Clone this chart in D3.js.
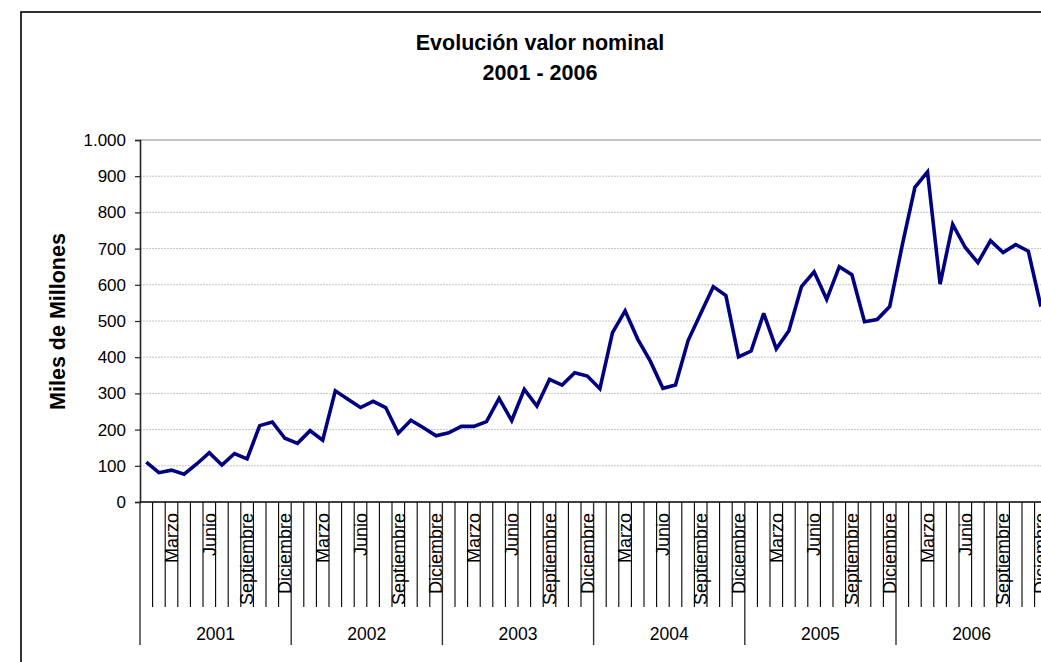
<!DOCTYPE html>
<html>
<head>
<meta charset="utf-8">
<script src="https://cdn.jsdelivr.net/npm/d3@7"></script>
<style>
  html, body { margin: 0; padding: 0; background: #fff; overflow: hidden; }
  text { font-family: "Liberation Sans", Arial, sans-serif; fill: #000; }
</style>
</head>
<body>
<svg id="chart" width="1041" height="662"></svg>
<script>
// ---- data ----
const years = ["2001", "2002", "2003", "2004", "2005", "2006"];
const months = ["Enero", "Febrero", "Marzo", "Abril", "Mayo", "Junio", "Julio", "Agosto", "Septiembre", "Octubre", "Noviembre", "Diciembre"];
const shownMonths = ["Marzo", "Junio", "Septiembre", "Diciembre"];
const values2001 = [110, 81, 88, 77, 105, 136, 102, 134, 119, 211, 221, 176];
const values2002 = [162, 197, 171, 307, 284, 261, 278, 261, 190, 226, 205, 183];
const values2003 = [191, 209, 209, 222, 286, 225, 311, 265, 339, 323, 357, 348];
const values2004 = [313, 468, 528, 450, 389, 314, 323, 446, 521, 595, 570, 401];
const values2005 = [417, 521, 423, 473, 595, 636, 560, 650, 628, 498, 504, 540];
const values2006 = [710, 869, 912, 602, 767, 703, 661, 722, 689, 711, 693, 540];
const yTicks = [0, 100, 200, 300, 400, 500, 600, 700, 800, 900, 1000];
const title1 = "Evolución valor nominal";
const title2 = "2001 - 2006";
const yTitle = "Miles de Millones";

const allValues = [values2001, values2002, values2003, values2004, values2005, values2006];
const data = [];
years.forEach((yr, yi) => months.forEach((m, mi) => data.push({ key: yr + "-" + mi, year: yr, month: m, value: allValues[yi][mi] })));

// ---- layout ----
const svg = d3.select("#chart");
const plotL = 140, plotR = 140 + 12.6 * 72, plotT = 140, plotB = 502;

svg.append("rect").attr("x", 0).attr("y", 0).attr("width", 1041).attr("height", 662).attr("fill", "#fff");
// outer chart border (extends beyond the window)
svg.append("rect").attr("x", 21).attr("y", 12).attr("width", 1200).attr("height", 800)
  .attr("fill", "none").attr("stroke", "#000").attr("stroke-width", 1.6);

const x = d3.scaleBand().domain(data.map(d => d.key)).range([plotL, plotR]).paddingInner(0).paddingOuter(0);
const y = d3.scaleLinear().domain([0, 1000]).range([plotB, plotT]);

// gridlines
svg.append("g").selectAll("line").data(yTicks.filter(t => t > 0 && t < 1000)).join("line")
  .attr("x1", plotL).attr("x2", plotR).attr("y1", d => y(d)).attr("y2", d => y(d))
  .attr("stroke", "#c4c4c4").attr("stroke-width", 1).attr("stroke-dasharray", "2,1");
// plot area top border
svg.append("line").attr("x1", plotL).attr("x2", plotR).attr("y1", y(1000)).attr("y2", y(1000))
  .attr("stroke", "#888").attr("stroke-width", 1.2);

// y axis
const loc = d3.formatLocale({ decimal: ",", thousands: ".", grouping: [3], currency: ["", ""] });
const fmt = loc.format(",d");
const yAxis = svg.append("g").attr("transform", `translate(${plotL},0)`)
  .call(d3.axisLeft(y).tickValues(yTicks).tickFormat(fmt).tickSize(5).tickPadding(9));
yAxis.select(".domain").attr("stroke", "#222").attr("stroke-width", 1.6);
yAxis.selectAll(".tick line").attr("stroke", "#222").attr("stroke-width", 1.2);
yAxis.selectAll(".tick text").attr("font-size", 17).attr("font-family", "Liberation Sans, Arial, sans-serif").attr("fill", "#000");

// x axis line
svg.append("line").attr("x1", plotL).attr("x2", plotR).attr("y1", plotB).attr("y2", plotB)
  .attr("stroke", "#000").attr("stroke-width", 1.6);

// month tick lines (between categories)
const bw = x.bandwidth();
const boundaries = d3.range(0, 73);
svg.append("g").selectAll("line").data(boundaries).join("line")
  .attr("x1", i => plotL + i * bw).attr("x2", i => plotL + i * bw)
  .attr("y1", plotB)
  .attr("y2", i => (i % 12 === 0) ? 645 : 607)
  .attr("stroke", i => (i % 12 === 0) ? "#333" : "#000")
  .attr("stroke-width", i => (i % 12 === 0) ? 1.4 : 1.1);

// month labels
svg.append("g").selectAll("text").data(data.filter(d => shownMonths.includes(d.month))).join("text")
  .attr("transform", d => `translate(${x(d.key) + bw / 2},513) rotate(-90)`)
  .attr("text-anchor", "end").attr("dy", "0.35em")
  .attr("font-size", 18).text(d => d.month);

// year labels
const yearScale = d3.scaleBand().domain(years).range([plotL, plotR]);
svg.append("g").selectAll("text").data(years).join("text")
  .attr("x", d => yearScale(d) + yearScale.bandwidth() / 2).attr("y", 640)
  .attr("text-anchor", "middle").attr("font-size", 17.5).text(d => d);

// line
const line = d3.line().x(d => x(d.key) + bw / 2).y(d => y(d.value));
svg.append("path").datum(data).attr("d", line)
  .attr("fill", "none").attr("stroke", "#000080").attr("stroke-width", 3.6)
  .attr("stroke-linejoin", "miter").attr("stroke-miterlimit", 3);

// titles
svg.append("text").attr("x", 540).attr("y", 49.5).attr("text-anchor", "middle")
  .attr("font-size", 21.5).attr("font-weight", "bold").text(title1);
svg.append("text").attr("x", 540).attr("y", 79.5).attr("text-anchor", "middle")
  .attr("font-size", 21.5).attr("font-weight", "bold").text(title2);
svg.append("text").attr("transform", "translate(65,321.5) rotate(-90)")
  .attr("text-anchor", "middle").attr("font-size", 21.5).attr("font-weight", "bold").text(yTitle);
</script>
</body>
</html>
